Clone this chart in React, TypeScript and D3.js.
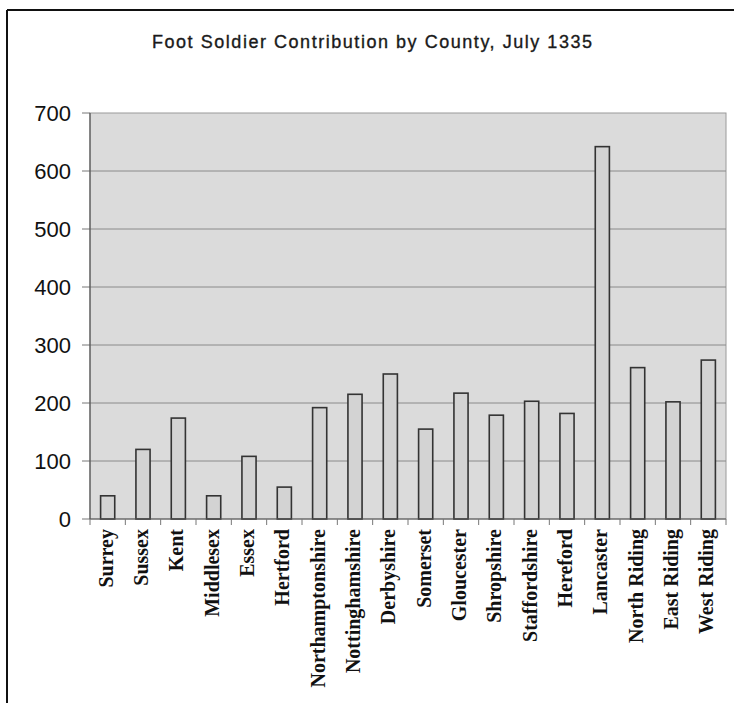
import React from "react";
import * as d3 from "d3";

const counties = [
  "Surrey", "Sussex", "Kent", "Middlesex", "Essex", "Hertford",
  "Northamptonshire", "Nottinghamshire", "Derbyshire", "Somerset",
  "Gloucester", "Shropshire", "Staffordshire", "Hereford", "Lancaster",
  "North Riding", "East Riding", "West Riding",
];
const soldiers = [40, 120, 174, 40, 108, 55, 192, 215, 250, 155, 217, 179, 203, 182, 642, 261, 202, 274];
const yTicks = [0, 100, 200, 300, 400, 500, 600, 700];
const title = "Foot Soldier Contribution by County, July 1335";

export default function App() {
  const W = 734, H = 703;
  const left = 90, right = 726, top = 113, bottom = 519;
  const x = d3.scaleBand<string>().domain(counties).range([left, right]).paddingInner(0.6).paddingOuter(0.3);
  const y = d3.scaleLinear().domain([0, 700]).range([bottom, top]);
  const step = x.step();
  const boundaries = d3.range(counties.length + 1).map((i) => left + i * step);

  return (
    <svg width={W} height={H} style={{ position: "absolute", left: 0, top: 0, display: "block", background: "#fff" }}>
      {/* outer frame */}
      <line x1={7} y1={10} x2={734} y2={10} stroke="#111" strokeWidth={2} />
      <line x1={7} y1={10} x2={7} y2={703} stroke="#111" strokeWidth={2} />
      {/* title */}
      <text x={372} y={48} textAnchor="middle" fontFamily="Liberation Sans, Arial, sans-serif" fontSize={18}
        stroke="#1a1a1a" strokeWidth={0.35} textLength={440} lengthAdjust="spacing" fill="#1a1a1a">{title}</text>
      {/* plot area */}
      <rect x={left} y={top} width={right - left} height={bottom - top} fill="#dbdbdb" stroke="#9a9a9a" strokeWidth={1} />
      {yTicks.map((t) => (
        <g key={t}>
          {t > 0 && t < 700 && <line x1={left} x2={right} y1={y(t)} y2={y(t)} stroke="#8a8a8a" strokeWidth={1} />}
          <line x1={left - 8} x2={left} y1={y(t)} y2={y(t)} stroke="#777" strokeWidth={1} />
          <text x={71} y={y(t)} dy="0.36em" textAnchor="end" fontFamily="Liberation Sans, Arial, sans-serif" fontSize={22} fill="#111">{t}</text>
        </g>
      ))}
      {/* bars */}
      {counties.map((c, i) => (
        <rect key={c} x={x(c)!} y={y(soldiers[i])} width={x.bandwidth()} height={y(0) - y(soldiers[i])}
          fill="#d3d3d3" stroke="#333" strokeWidth={1.6} />
      ))}
      {/* axes */}
      <line x1={left} x2={left} y1={top} y2={bottom} stroke="#555" strokeWidth={1.2} />
      <line x1={left} x2={right} y1={bottom} y2={bottom} stroke="#555" strokeWidth={1.2} />
      {boundaries.map((b, i) => (
        <line key={i} x1={b} x2={b} y1={bottom} y2={bottom + 6} stroke="#777" strokeWidth={1} />
      ))}
      {/* category labels */}
      {counties.map((c) => {
        const cx = x(c)! + x.bandwidth() / 2;
        return (
          <text key={c} transform={`translate(${cx + 5},529) rotate(-90)`} textAnchor="end"
            fontFamily="Liberation Serif, Times New Roman, serif" fontWeight="bold" fontSize={20} fill="#111">{c}</text>
        );
      })}
    </svg>
  );
}
